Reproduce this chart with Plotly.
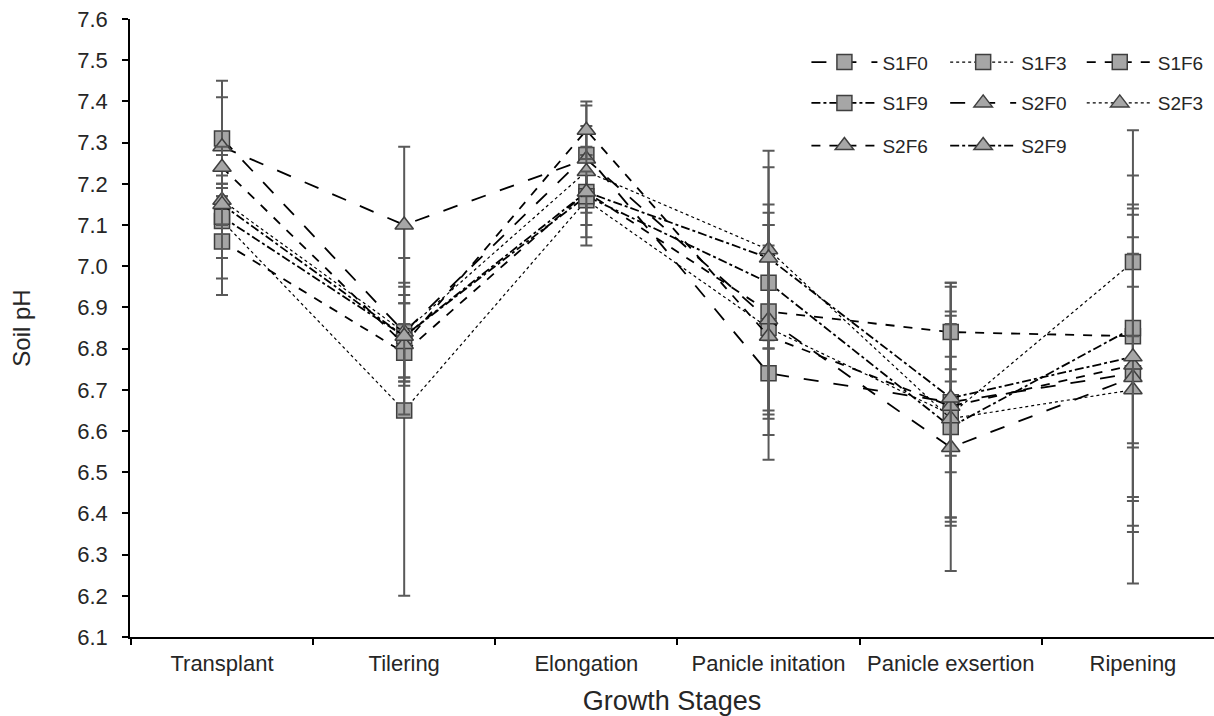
import plotly.graph_objects as go

stages = ["Transplant", "Tilering", "Elongation", "Panicle initation", "Panicle exsertion", "Ripening"]

series_names = ["S1F0", "S1F3", "S1F6", "S1F9", "S2F0", "S2F3", "S2F6", "S2F9"]

S1F0 = [7.31, 6.84, 7.27, 6.74, 6.67, 6.74]
S1F3 = [7.11, 6.65, 7.16, 6.85, 6.64, 7.01]
S1F6 = [7.06, 6.79, 7.18, 6.89, 6.84, 6.83]
S1F9 = [7.12, 6.83, 7.17, 6.96, 6.61, 6.85]
S2F0 = [7.29, 7.10, 7.26, 6.87, 6.56, 6.73]
S2F3 = [7.16, 6.84, 7.23, 7.04, 6.63, 6.70]
S2F6 = [7.24, 6.81, 7.33, 6.83, 6.66, 6.76]
S2F9 = [7.15, 6.83, 7.18, 7.02, 6.68, 6.78]

S1F0_sd = [0.14, 0.12, 0.12, 0.15, 0.28, 0.385]
S1F3_sd = [0.09, 0.45, 0.11, 0.20, 0.25, 0.06]
S1F6_sd = [0.13, 0.07, 0.08, 0.26, 0.12, 0.39]
S1F9_sd = [0.15, 0.19, 0.10, 0.14, 0.35, 0.29]
S2F0_sd = [0.12, 0.19, 0.08, 0.23, 0.19, 0.30]
S2F3_sd = [0.06, 0.11, 0.06, 0.24, 0.25, 0.13]
S2F6_sd = [0.05, 0.10, 0.07, 0.30, 0.12, 0.39]
S2F9_sd = [0.05, 0.10, 0.05, 0.22, 0.18, 0.55]

y_ticks = [6.1, 6.2, 6.3, 6.4, 6.5, 6.6, 6.7, 6.8, 6.9, 7.0, 7.1, 7.2, 7.3, 7.4, 7.5, 7.6]

values = [S1F0, S1F3, S1F6, S1F9, S2F0, S2F3, S2F6, S2F9]
sds = [S1F0_sd, S1F3_sd, S1F6_sd, S1F9_sd, S2F0_sd, S2F3_sd, S2F6_sd, S2F9_sd]
dashes = ["longdash", "dot", "dash", "dashdot", "longdash", "dot", "dash", "dashdot"]
symbols = ["square"] * 4 + ["triangle-up"] * 4

FONT = "Liberation Sans, Arial, sans-serif"
TXT = "#262626"

# legend grid placement (3 columns x 3 rows)
col_x = [0.624, 0.752, 0.878]
row_y = [0.930, 0.864, 0.795]

fig = go.Figure()
for i, name in enumerate(series_names):
    lname = "legend" if i == 0 else f"legend{i+1}"
    fig.add_trace(go.Scatter(
        x=stages, y=values[i], name=name, mode="lines+markers",
        legend=lname, showlegend=True,
        line=dict(color="black", width=1.2 if dashes[i] == "dot" else 1.8, dash=dashes[i]),
        marker=dict(symbol=symbols[i], size=15 if symbols[i] == "square" else 16,
                    color="#a6a6a6", line=dict(color="#3f3f3f", width=1.5)),
        error_y=dict(type="data", array=sds[i], visible=True, color="#595959",
                     thickness=2, width=6),
    ))

layout_legends = {}
for i in range(8):
    lname = "legend" if i == 0 else f"legend{i+1}"
    layout_legends[lname] = dict(
        x=col_x[i % 3], y=row_y[i // 3], xanchor="left", yanchor="middle",
        orientation="h", bgcolor="rgba(0,0,0,0)", borderwidth=0,
        itemwidth=66, font=dict(family=FONT, size=19, color=TXT),
    )

fig.update_layout(
    width=1214, height=716,
    margin=dict(l=130, r=0, t=19, b=79),
    paper_bgcolor="white", plot_bgcolor="white",
    font=dict(family=FONT, color=TXT),
    showlegend=True,
    **layout_legends,
)

fig.update_xaxes(
    type="category", range=[-0.505, 5.445],
    showline=True, linecolor="black", linewidth=1.5,
    ticks="outside", tickson="boundaries", ticklen=6, tickcolor="black", tickwidth=1.5,
    ticklabelstandoff=6,
    showgrid=False, zeroline=False,
    tickfont=dict(family=FONT, size=22, color=TXT),
    title=dict(text="Growth Stages", font=dict(family=FONT, size=27, color=TXT), standoff=16),
)
fig.update_yaxes(
    range=[6.1, 7.6], tickvals=y_ticks, ticktext=[f"{v:.1f}" for v in y_ticks],
    showline=True, linecolor="black", linewidth=1.5,
    ticks="outside", ticklen=6, tickcolor="black", tickwidth=1.5,
    ticklabelstandoff=10,
    showgrid=False, zeroline=False,
    tickfont=dict(family=FONT, size=22, color=TXT),
    title=dict(text="Soil pH", font=dict(family=FONT, size=24, color=TXT), standoff=40),
)

fig.write_html("out.html")
